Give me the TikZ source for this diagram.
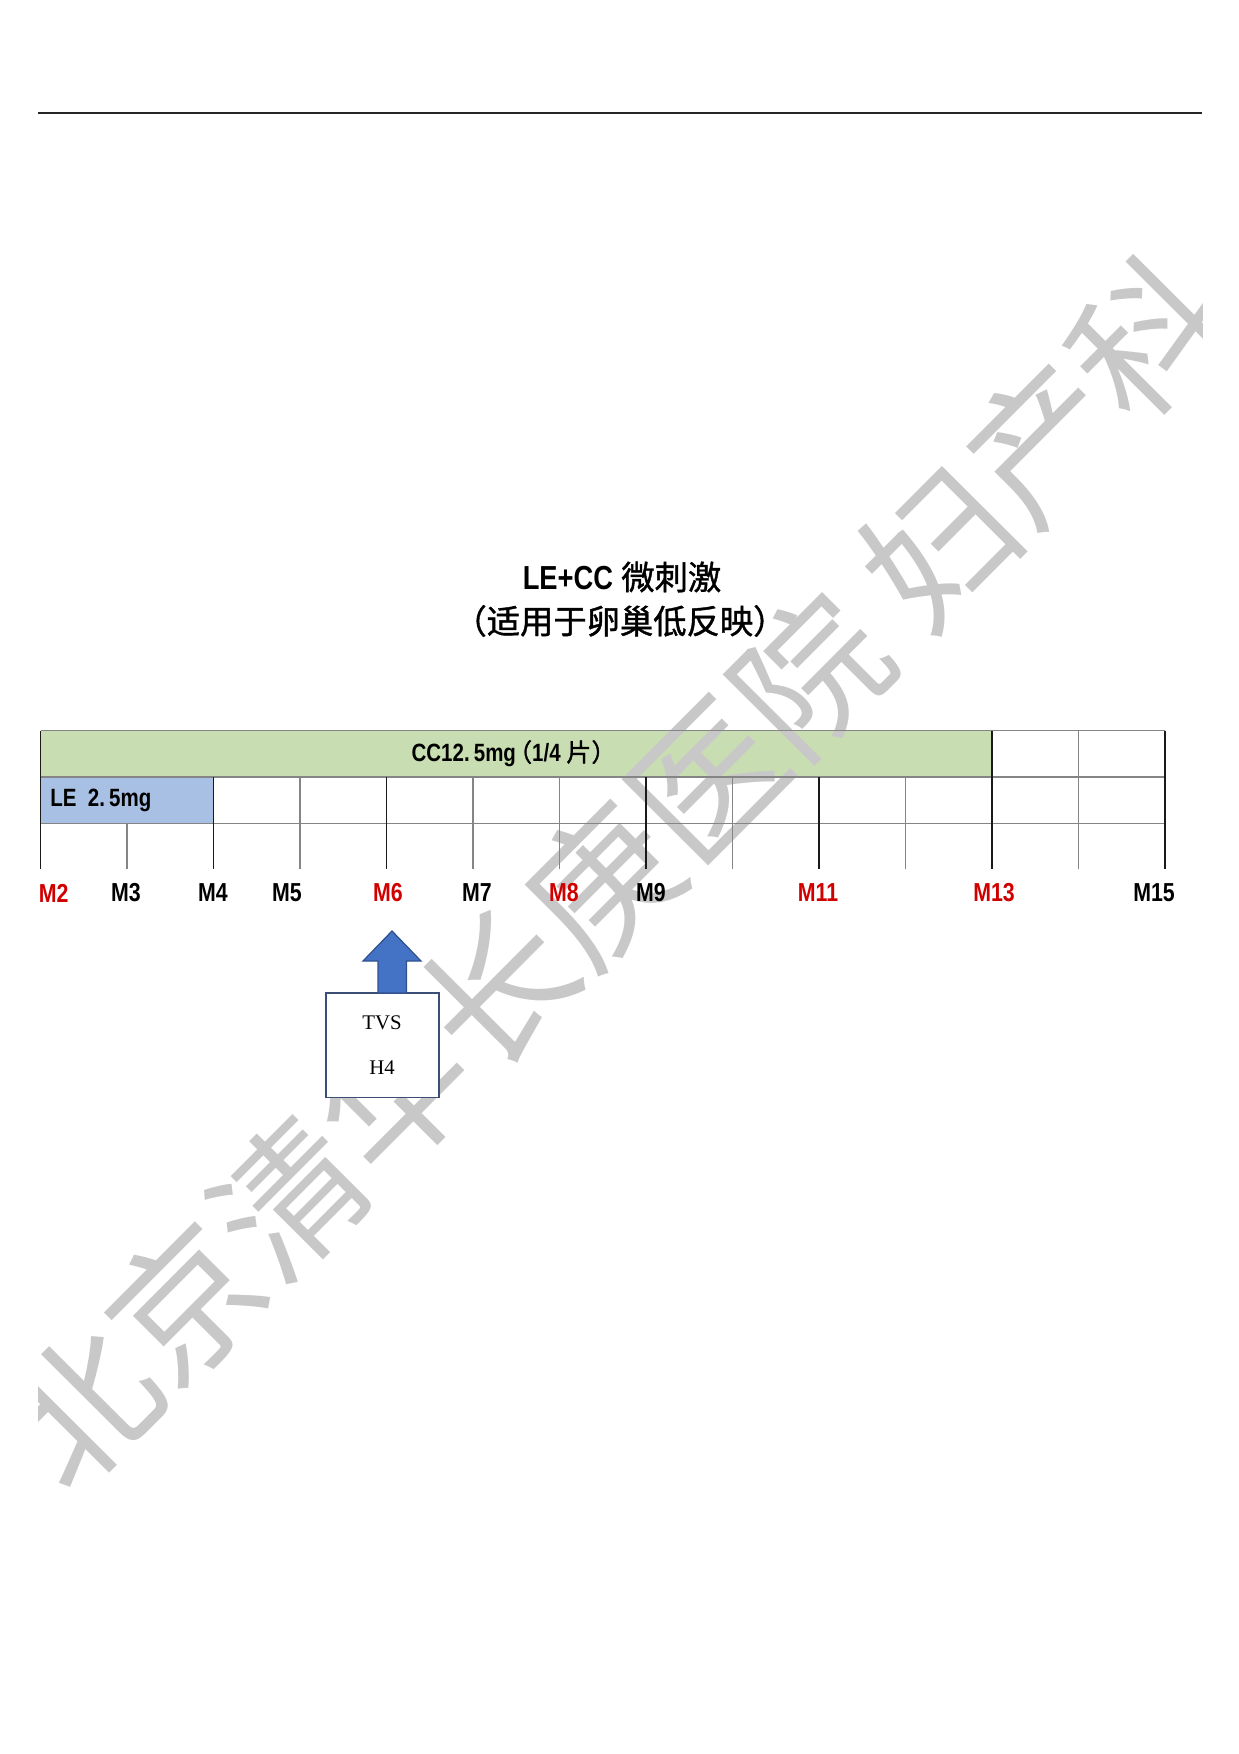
\documentclass[tikz,border=0pt]{standalone}
\usepackage{fontspec}
\setmainfont{Liberation Serif}
\newfontfamily\cjk{Noto Sans CJK SC}
\newfontfamily\cjkh[FakeBold=1.2]{Noto Sans CJK SC}
\newfontfamily\lab[FakeStretch=0.82,BoldFont={Liberation Sans Bold}]{Liberation Sans}
\usetikzlibrary{calc}
\definecolor{ccgreen}{HTML}{C9DDB2}
\definecolor{leblue}{HTML}{A7C0E3}
\definecolor{mred}{HTML}{D00000}
\definecolor{gridgray}{HTML}{858585}
\definecolor{griddark}{HTML}{1A1A1A}
\definecolor{wmgray}{HTML}{C8C8C8}
\definecolor{arrowblue}{HTML}{4472C4}
\definecolor{arrowedge}{HTML}{2F528F}
\definecolor{boxedge}{HTML}{3B4E78}
\tikzset{
  gline/.style={draw=gridgray, line width=0.85pt},
  dline/.style={draw=griddark, line width=0.6pt},
  mlab/.style={font=\lab\bfseries\fontsize{12.5pt}{14pt}\selectfont, inner sep=0pt, text=black},
  mlabred/.style={mlab, text=mred},
  bartext/.style={font=\lab\bfseries\fontsize{12pt}{14pt}\selectfont, inner sep=0pt},
  titletext/.style={font=\fontsize{16pt}{19pt}\selectfont, inner sep=0pt},
  tvsbox/.style={draw=boxedge, line width=0.6pt, fill=white, minimum width=54.3pt, minimum height=50.2pt, inner sep=0pt},
  tvstext/.style={font=\fontsize{10pt}{12pt}\selectfont, inner sep=0pt},
  wmtext/.style={font=\cjk\fontsize{71pt}{80pt}\selectfont, text=wmgray, inner sep=0pt},
  blockarrow/.style={fill=arrowblue, draw=arrowedge, line width=0.6pt, line join=miter}
}
\begin{document}
\begin{tikzpicture}[x=0.4805pt, y=-0.4805pt]
\useasboundingbox (0,0) rectangle (1239,1754);
% header rule
\coordinate (hl) at (38,113);
\coordinate (hr) at (1202,113);
\draw[draw=black!85, line width=1pt] (hl) -- (hr);

% title
\node[titletext] (title1) at (622,577) {{\lab\bfseries LE+CC} \cjkh 微刺激};
\node[titletext] (title2) at (620,621) {\cjkh （适用于卵巢低反映）};

% fills
\fill[ccgreen] (40.5,730.5) rectangle (992,777);
\fill[leblue] (40.5,777) rectangle (213.5,823.5);

% watermark
\begin{scope}
  \clip (38,0) rectangle (1202,1754);
  \node[wmtext, rotate=45.1] (wm) at (614,872) {北京清华长庚医院 妇产科};
\end{scope}

% grid: horizontal lines
\foreach \yy in {730.5,777,823.5}{
  \draw[gline] (40.5,\yy) -- (1165,\yy);
}
% verticals
\draw[dline] (40.5,730.5) -- (40.5,869);
\draw[gline] (127,823.5) -- (127,869);
\foreach \xx/\sty in {213.5/dline,300/gline,386.5/dline,473/gline,559.5/gline,646/dline,732.5/gline,819/dline,905.5/gline}{
  \draw[\sty] (\xx,777) -- (\xx,869);
}
\draw[dline] (992,730.5) -- (992,869);
\draw[gline] (1078.5,730.5) -- (1078.5,869);
\draw[dline] (1165,730.5) -- (1165,869);

% bar texts
\node[bartext] (cc) at (514,753.5) {CC12.\,5mg\kern-0.35em{\cjkh\mdseries （}1/4 {\cjkh\mdseries 片）}};
\node[bartext, anchor=west] (le) at (50,800) {LE\ \ 2.\,5mg};

% month labels
\node[mlabred] (m2)  at (53.7,893) {M2};
\node[mlab]    (m3)  at (126,893)  {M3};
\node[mlab]    (m4)  at (213,893)  {M4};
\node[mlab]    (m5)  at (287,893)  {M5};
\node[mlabred] (m6)  at (388,893)  {M6};
\node[mlab]    (m7)  at (477,893)  {M7};
\node[mlabred] (m8)  at (564,893)  {M8};
\node[mlab]    (m9)  at (651,893)  {M9};
\node[mlabred] (m11) at (818,893)  {M11};
\node[mlabred] (m13) at (994,893)  {M13};
\node[mlab]    (m15) at (1154,893) {M15};

% TVS box
\node[tvsbox] (tvs) at (382.5,1045.3) {};
\node[tvstext] (tvs1) at (382,1023) {TVS};
\node[tvstext] (tvs2) at (382,1068) {H4};

% block arrow pointing up towards M6
\draw[blockarrow] (392,931) -- (421,961) -- (406.5,961) -- (406.5,993) -- (378,993) -- (378,961) -- (363,961) -- cycle;
\end{tikzpicture}
\end{document}
